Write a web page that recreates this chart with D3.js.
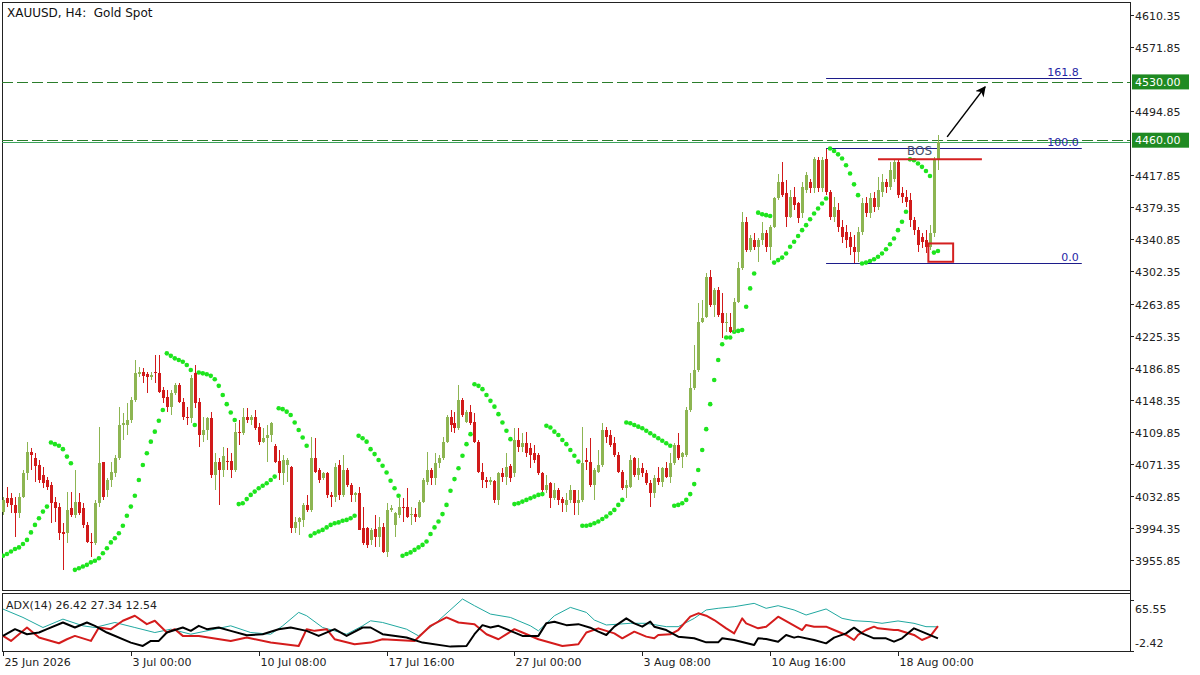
<!DOCTYPE html>
<html><head><meta charset="utf-8">
<script src="https://cdn.jsdelivr.net/npm/d3@7"></script>
<style>body{margin:0;background:#fff}svg{display:block}text{font-family:"DejaVu Sans",sans-serif}</style>
</head><body><svg id="c" width="1200" height="675"></svg>
<script>
// ---------------- DATA ----------------
const openP=[4014,4030,4030,4022,4012,4032,4060,4086,4078,4070,
4058,4052,4046,4026,4020,3989,3988,4018,4010,4026,
4018,3998,3978,3976,4024,4073,4040,4052,4060,4078,
4118,4118,4124,4148,4179,4182,4179,4176,4182,4180,
4160,4152,4140,4156,4166,4146,4128,4126,4180,4146,
4106,4112,4126,4058,4074,4064,4075,4075,4064,4110,
4108,4128,4124,4127,4116,4098,4102,4106,4093,4075,
4060,4070,4068,3994,4002,4004,4022,4016,4078,4064,
4054,4060,4034,4032,4070,4034,4064,4046,4034,4036,
3994,3994,3980,3993,3984,3996,3966,4016,3998,4010,
4020,4020,4011,4011,4008,4026,4050,4064,4054,4072,
4078,4098,4128,4120,4114,4148,4122,4134,4122,4098,
4062,4052,4050,4051,4028,4060,4056,4069,4060,4100,
4092,4096,4090,4084,4082,4060,4040,4048,4030,4040,
4029,4022,4028,4040,4024,4028,4076,4074,4046,4062,
4070,4112,4106,4096,4082,4062,4042,4044,4078,4058,
4066,4060,4048,4036,4054,4050,4066,4056,4072,4094,
4080,4082,4136,4162,4184,4242,4248,4296,4262,4280,
4252,4242,4236,4232,4266,4306,4362,4328,4340,4332,
4340,4348,4332,4356,4390,4410,4396,4368,4392,4384,
4372,4400,4410,4402,4436,4402,4438,4398,4368,4376,
4356,4350,4344,4332,4326,4350,4384,4372,4390,4380,
4398,4410,4404,4414,4434,4396,4392,4388,4364,4352,
4344,4340,4332,4348,4436];
const highP=[4032,4044,4036,4032,4036,4064,4098,4090,4084,4076,
4068,4056,4050,4032,4024,4000,4038,4038,4064,4036,
4024,4002,3988,4028,4116,4074,4054,4074,4082,4140,
4132,4144,4152,4196,4188,4186,4182,4182,4202,4202,
4164,4160,4160,4168,4169,4150,4140,4178,4190,4150,
4128,4128,4134,4084,4078,4092,4090,4084,4120,4124,
4138,4138,4130,4136,4120,4114,4118,4122,4095,4088,
4082,4078,4069,4008,4008,4024,4034,4104,4102,4066,
4062,4062,4038,4072,4076,4082,4066,4048,4038,4044,
4020,3996,3994,4010,4008,4000,4024,4022,4014,4030,
4030,4042,4020,4018,4028,4054,4086,4066,4084,4082,
4104,4130,4136,4134,4166,4150,4136,4142,4132,4100,
4072,4056,4056,4052,4062,4066,4084,4071,4114,4114,
4108,4110,4096,4094,4084,4062,4058,4050,4048,4042,
4031,4036,4046,4040,4040,4116,4090,4102,4066,4088,
4120,4116,4112,4104,4086,4064,4052,4082,4080,4078,
4072,4064,4052,4058,4068,4068,4074,4084,4096,4108,
4086,4140,4180,4214,4264,4268,4300,4304,4282,4284,
4276,4252,4252,4270,4314,4374,4368,4346,4348,4342,
4362,4352,4358,4392,4420,4434,4412,4400,4404,4386,
4410,4422,4414,4440,4440,4440,4450,4400,4392,4384,
4364,4358,4350,4346,4356,4390,4392,4396,4398,4416,
4420,4414,4434,4437,4437,4404,4400,4396,4368,4356,
4348,4352,4358,4440,4466];
const lowP=[4010,4020,4012,3984,4006,4030,4052,4064,4050,4048,
4042,4040,4000,4002,3980,3944,3976,4008,4006,4010,
3994,3976,3960,3974,4020,4028,4032,4044,4056,4076,
4100,4106,4120,4146,4176,4168,4156,4172,4168,4156,
4144,4134,4130,4154,4144,4124,4118,4120,4138,4092,
4098,4100,4054,4040,4022,4056,4064,4054,4062,4094,
4106,4120,4118,4112,4094,4096,4074,4098,4072,4052,
4046,4050,3988,3988,3986,3996,4014,4014,4060,4048,
4052,4030,4020,4026,4028,4032,4044,4026,4026,3992,
3974,3970,3974,3972,3972,3964,3960,4014,3984,4006,
4002,4006,3998,4002,4006,4024,4046,4046,4046,4066,
4076,4096,4110,4108,4112,4128,4120,4118,4096,4060,
4042,4042,4046,4024,4022,4050,4046,4050,4056,4086,
4086,4080,4066,4072,4058,4038,4036,4018,4028,4022,
4014,4014,4024,4010,4010,4026,4064,4044,4028,4060,
4068,4096,4092,4080,4060,4040,4030,4042,4056,4052,
4056,4046,4020,4030,4046,4044,4054,4048,4070,4076,
4066,4080,4134,4160,4182,4240,4246,4260,4248,4248,
4222,4230,4228,4230,4264,4304,4326,4326,4328,4314,
4334,4326,4316,4354,4388,4392,4356,4366,4376,4360,
4366,4396,4396,4396,4398,4398,4394,4364,4362,4350,
4336,4330,4322,4312,4314,4346,4368,4366,4374,4376,
4392,4396,4400,4410,4390,4384,4380,4356,4346,4326,
4330,4324,4328,4344,4424];
const closeP=[4028,4024,4022,4012,4032,4060,4086,4082,4069,4052,
4048,4044,4024,4018,3988,3987,4016,4010,4026,4012,
3998,3978,3976,4024,4072,4032,4052,4062,4078,4118,
4120,4124,4148,4180,4182,4177,4176,4178,4180,4158,
4150,4140,4156,4166,4146,4128,4126,4174,4144,4106,
4112,4126,4058,4074,4064,4081,4074,4064,4110,4108,
4128,4124,4127,4114,4098,4102,4106,4120,4074,4060,
4076,4076,3994,4002,4006,4022,4016,4078,4062,4052,
4060,4034,4032,4068,4034,4064,4046,4034,4036,3992,
3976,3974,3992,3984,3996,3966,4016,4018,4012,4020,
4018,4008,4011,4007,4026,4052,4064,4054,4072,4078,
4098,4128,4118,4114,4148,4130,4134,4120,4098,4062,
4052,4050,4052,4028,4060,4056,4068,4054,4100,4092,
4096,4084,4082,4076,4060,4040,4046,4030,4040,4028,
4024,4028,4040,4024,4028,4072,4074,4046,4064,4070,
4112,4104,4094,4082,4062,4042,4046,4076,4058,4066,
4060,4048,4036,4054,4050,4066,4056,4072,4094,4078,
4084,4136,4162,4184,4242,4246,4296,4262,4280,4250,
4240,4242,4230,4266,4306,4362,4328,4342,4332,4340,
4348,4332,4356,4390,4410,4394,4368,4392,4382,4366,
4404,4418,4402,4438,4402,4436,4398,4368,4380,4356,
4344,4340,4332,4326,4350,4384,4372,4390,4380,4400,
4410,4404,4424,4434,4394,4392,4386,4364,4352,4334,
4338,4332,4348,4436,4458];
// Parabolic SAR value for every bar
const sarP=[3961,3963,3966,3969,3971,3975,3980,3989,3998,4006,4014,4020,
4097,4095,4093,4089,4080,4072,
3944,3946,3948,3950,3953,3955,3958,3964,3970,3977,3982,3988,3997,4009,4020,4033,4052,4070,4084,4098,4110,4123,4136,
4204,4201,4198,4196,4194,4190,4184,
4118,
4181,4180,4179,4177,4173,4165,4154,4143,4133,4124,
4023,4024,4029,4034,4038,4042,4045,4048,4052,4056,
4138,4137,4134,4130,4121,4112,4103,4093,
3985,3988,3990,3992,3995,3998,4000,4001,4003,4004,4006,4009,
4105,4102,4098,4089,4083,4076,4069,4061,4051,4042,4033,
3961,3963,3965,3968,3971,3974,3978,3987,3995,4002,4011,4022,4039,4053,4066,4081,4095,4107,
4167,4165,4161,4154,4147,4140,4131,4121,4111,4101,
4023,4024,4026,4028,4030,4032,4034,4035,
4117,4115,4110,4106,4100,4095,4088,4081,4074,
3997,3997,3998,4000,4002,4005,4008,4012,4016,4022,4028,
4121,4120,4118,4116,4114,4111,4108,4105,4102,4099,4096,4093,
4021,4022,4024,4028,4035,4047,4064,4088,4113,4143,4172,4196,4215,4223,4223,4230,4231,4232,4260,4282,4300,
4373,4371,4370,4369,
4313,4316,4319,4324,4332,4338,4345,4352,4358,4365,4372,4378,4384,4390,
4450,4447,4443,4438,4430,4420,4407,4394,
4312,4313,4315,4317,4320,4324,4329,4335,4342,4352,4362,4374,
4437,4436,4432,4428,4423,4417,
4325,4327];
// ADX(14) readings (bar index, value)
const adxBars=[0,5,10,15,20,23,28,33,38,42,47,53,57,62,67,70,74,76,80,86,90,92,95,101,104,108,115,118,122,127,132,134,138,142,146,148,151,157,161,166,169,173,176,179,183,188,191,194,198,201,206,210,213,217,220,224,228,231,234];
const adxVals=[47.6,37.6,25.6,35.6,27.6,25.6,31.6,25.6,19.6,23.6,17.6,23.6,27.6,19.6,17.6,27.6,43.6,39.6,25.6,17.6,27.6,33.6,31.6,23.6,15.6,29.6,59.6,51.6,41.6,37.6,27.6,21.6,39.6,49.6,43.6,34.5,28.6,30.6,30.6,26.6,26.6,36.5,46.5,48.5,50.4,54.4,48.5,51.6,46.5,40.5,47.7,36.5,33.7,32.6,30.6,33.4,30.6,26.6,26.42];
const pdiBars=[0,2,6,9,14,16,18,22,24,27,30,33,36,38,41,43,45,49,57,61,67,74,76,78,81,83,88,92,95,103,107,111,114,118,121,124,128,130,134,140,144,146,149,153,155,158,161,163,164,167,169,172,174,176,178,181,183,185,186,189,191,194,197,200,201,203,206,208,211,213,214,216,218,219,223,224,228,230,232,234];
const pdiVals=[15.6,9.6,25.6,13.6,6.8,11.6,15.6,9.6,25.6,23.6,33.6,39.6,29.6,33.6,19.6,23.6,15.6,15.6,9.6,13.6,7.6,3.6,23.6,21.6,23.6,11.6,5.6,7.6,11.6,9.6,27.6,37.6,31.6,29.6,17.6,11.6,23.6,19.6,11.6,3.6,5.6,19.6,24.6,18.6,12.7,20.6,14.7,12.7,16.7,17.5,22.6,38.5,42.5,39.7,34.5,24.6,18.6,36.5,30.6,24.6,26.6,38.5,30.6,22.6,28.6,26.6,26.6,22.6,16.7,10.7,16.7,22.6,26.6,24.6,22.6,22.6,16.7,10.7,14.7,27.34];
const mdiBars=[0,3,6,9,11,15,18,21,23,26,32,35,37,39,41,45,47,49,51,54,57,61,65,69,72,76,79,83,86,90,92,95,101,105,112,116,118,120,122,124,127,130,134,136,138,141,144,147,149,151,153,156,158,160,162,163,166,169,173,176,179,180,183,188,189,191,194,196,198,199,203,206,208,211,213,215,218,221,223,225,228,231,234];
const mdiVals=[15.6,23.6,17.6,19.6,23.6,31.6,25.6,31.6,27.6,19.6,7.6,3.6,9.6,9.6,19.6,25.6,21.6,27.6,23.6,25.6,21.6,16.4,17.6,23.6,25.6,21.6,15.6,23.6,15.6,25.6,25.6,17.6,13.6,7.6,2.8,3.6,17.6,28.4,25.6,27.6,21.6,15.6,15.6,30.8,32.4,28.4,29.6,25.4,20.6,16.7,26.6,36.5,30.6,26.6,32.6,26.6,22.6,14.7,12.7,7.9,7.9,12.7,10.7,4.7,12.7,11.9,8.7,16.7,13.5,14.7,10.7,6.7,13.5,18.6,25.4,18.6,12.7,12.7,8.7,12.7,24.6,18.6,12.54];
const priceTicks=[4610.35,4571.85,4494.85,4417.85,4379.35,4340.85,4302.35,4263.85,4225.35,4186.85,4148.35,4109.85,4071.35,4032.85,3994.35,3955.85];
const adxTicks=[65.55,-2.42];
const timeBars=[0,32,64,96,128,160,192,224];
const timeLabels=["25 Jun 2026","3 Jul 00:00","10 Jul 08:00","17 Jul 16:00","27 Jul 00:00","3 Aug 08:00","10 Aug 16:00","18 Aug 00:00"];
const levelPrices=[4530,4460];
const bidPrice=4458;
const fibLevels=["161.8","100.0","0.0"];
const fibRatios=[1.618,1,0];
const fibHigh=4450.3, fibLow=4312.9, fibStartBar=206, fibEndBar=270;
const bosPrice=4437, bosStartBar=219, bosEndBar=245;
const boxBars=[231.6,237.8], boxPrices=[4336,4314];
const arrowFrom=[236.3,4464], arrowTo=[245.8,4524];
const titleText="XAUUSD, H4:  Gold Spot";
const adxText="ADX(14) 26.42 27.34 12.54";

// ---------------- LAYOUT ----------------
const svg=d3.select("#c");
const L=2,R=1130,T=2,B=590,AT=594,AB=651;
const x=d3.scaleLinear().domain([0,224]).range([3,898]);
const y=d3.scaleLinear().domain([3955.85,4610.35]).range([560,15]);
const ya=d3.scaleLinear().domain([-2.42,65.55]).range([AB,AT]);
const GREEN="#8db552",RED="#d11a1a";

svg.append("defs").append("clipPath").attr("id","mainclip").append("rect").attr("x",L).attr("y",T).attr("width",R-L).attr("height",B-T);
svg.select("defs").append("clipPath").attr("id","adxclip").append("rect").attr("x",L).attr("y",AT).attr("width",R-L).attr("height",AB-AT);
svg.select("defs").append("marker").attr("id","ah").attr("viewBox","0 0 10 10").attr("refX",9).attr("refY",5)
  .attr("markerWidth",7).attr("markerHeight",7).attr("orient","auto")
  .append("path").attr("d","M0,0 L10,5 L0,10 L3,5 z").attr("fill","#000");

// frames
const fr=svg.append("g").attr("stroke","#222").attr("fill","none").attr("shape-rendering","crispEdges");
fr.append("line").attr("x1",L+0.5).attr("x2",L+0.5).attr("y1",T).attr("y2",B+0.5);
fr.append("line").attr("x1",L).attr("x2",R).attr("y1",T+0.5).attr("y2",T+0.5);
fr.append("line").attr("x1",L).attr("x2",R).attr("y1",B+0.5).attr("y2",B+0.5);
fr.append("line").attr("x1",L).attr("x2",R).attr("y1",AT-0.5).attr("y2",AT-0.5);
fr.append("line").attr("x1",L+0.5).attr("x2",L+0.5).attr("y1",AT).attr("y2",AB+0.5);
fr.append("line").attr("x1",L).attr("x2",R).attr("y1",AB+0.5).attr("y2",AB+0.5);
fr.append("line").attr("x1",R+0.5).attr("x2",R+0.5).attr("y1",T).attr("y2",AB+0.5);

const main=svg.append("g").attr("clip-path","url(#mainclip)");

// horizontal levels
main.selectAll("line.lvl").data(levelPrices).join("line").attr("class","lvl")
  .attr("x1",L).attr("x2",R).attr("y1",d=>Math.round(y(d))+0.5).attr("y2",d=>Math.round(y(d))+0.5)
  .attr("stroke","#2b7d2b").attr("stroke-width",1).attr("stroke-dasharray","11,4");
main.append("line").attr("x1",L).attr("x2",R).attr("y1",Math.round(y(bidPrice))+0.5).attr("y2",Math.round(y(bidPrice))+0.5)
  .attr("stroke","#3aa35a").attr("stroke-width",1);

// fibonacci
const fg=main.append("g");
fibRatios.forEach((r,k)=>{
  const p=fibLow+(fibHigh-fibLow)*r, yy=Math.round(y(p))+0.5;
  fg.append("line").attr("x1",x(fibStartBar)).attr("x2",x(fibEndBar)).attr("y1",yy).attr("y2",yy)
    .attr("stroke","#1c1c8a").attr("stroke-width",1);
  fg.append("text").attr("x",x(fibEndBar)-3).attr("y",yy-3).attr("text-anchor","end")
    .attr("font-size",11).attr("fill","#2626a6").text(fibLevels[k]);
});

// SAR dots
main.append("g").selectAll("circle").data(sarP).join("circle")
  .attr("cx",(d,i)=>x(i)).attr("cy",d=>y(d)).attr("r",2.3).attr("fill","#1ee51e");

// candles
const idx=d3.range(Math.min(openP.length,highP.length,lowP.length,closeP.length));
const cg=main.append("g").attr("shape-rendering","crispEdges");
cg.selectAll("line").data(idx).join("line")
  .attr("x1",i=>Math.round(x(i))+0.5).attr("x2",i=>Math.round(x(i))+0.5)
  .attr("y1",i=>y(highP[i])).attr("y2",i=>y(lowP[i]))
  .attr("stroke",i=>closeP[i]>=openP[i]?GREEN:RED).attr("stroke-width",1);
cg.selectAll("rect").data(idx).join("rect")
  .attr("x",i=>Math.round(x(i))-1).attr("width",3)
  .attr("y",i=>y(Math.max(openP[i],closeP[i])))
  .attr("height",i=>Math.max(1,Math.abs(y(openP[i])-y(closeP[i]))))
  .attr("fill",i=>closeP[i]>=openP[i]?GREEN:RED);

// BOS
main.append("line").attr("x1",x(bosStartBar)).attr("x2",x(bosEndBar)).attr("y1",y(bosPrice)).attr("y2",y(bosPrice))
  .attr("stroke","#d42020").attr("stroke-width",2);
main.append("text").attr("x",x(bosStartBar)+29).attr("y",y(bosPrice)-4).attr("font-size",12)
  .attr("fill","#46506a").text("BOS");
main.append("rect").attr("x",x(boxBars[0])).attr("y",y(boxPrices[0])).attr("width",x(boxBars[1])-x(boxBars[0]))
  .attr("height",y(boxPrices[1])-y(boxPrices[0])).attr("fill","none").attr("stroke","#d42020").attr("stroke-width",2);
main.append("line").attr("x1",x(arrowFrom[0])).attr("y1",y(arrowFrom[1])).attr("x2",x(arrowTo[0])).attr("y2",y(arrowTo[1]))
  .attr("stroke","#000").attr("stroke-width",1.5).attr("marker-end","url(#ah)");

// title
svg.append("text").attr("x",7).attr("y",17).attr("font-size",12).attr("fill","#111").attr("xml:space","preserve").text(titleText);

// right axis
const ax=svg.append("g");
priceTicks.forEach(p=>{
  const yy=Math.round(y(p))+0.5;
  ax.append("line").attr("x1",R).attr("x2",R+4).attr("y1",yy).attr("y2",yy).attr("stroke","#222");
  ax.append("text").attr("x",R+5).attr("y",yy+4).attr("font-size",11).attr("fill","#222").text(p.toFixed(2));
});
levelPrices.forEach(p=>{
  const yy=y(p);
  ax.append("rect").attr("x",R+2).attr("y",yy-7.5).attr("width",57).attr("height",15).attr("fill","#1f8a22");
  ax.append("text").attr("x",R+5).attr("y",yy+4).attr("font-size",11).attr("fill","#fff").text(p.toFixed(2));
});
// ADX axis
adxTicks.forEach((v,k)=>{
  const yy=k===0?609:643;
  ax.append("text").attr("x",R+5).attr("y",yy+4).attr("font-size",11).attr("fill","#222").text(v.toFixed(2));
});
ax.append("line").attr("x1",R).attr("x2",R+4).attr("y1",AB+0.5).attr("y2",AB+0.5).attr("stroke","#222");
ax.append("line").attr("x1",R).attr("x2",R+4).attr("y1",AT+6.5).attr("y2",AT+6.5).attr("stroke","#222");

// ADX panel
const ag=svg.append("g").attr("clip-path","url(#adxclip)").attr("fill","none");
const ln=d3.line().x(d=>x(d[0])).y(d=>ya(d[1]));
ag.append("path").attr("d",ln(adxBars.map((b,k)=>[b,adxVals[k]]))).attr("stroke","#20a8a0").attr("stroke-width",1);
ag.append("path").attr("d",ln(pdiBars.map((b,k)=>[b,pdiVals[k]]))).attr("stroke","#d41c1c").attr("stroke-width",2).attr("stroke-linejoin","round");
ag.append("path").attr("d",ln(mdiBars.map((b,k)=>[b,mdiVals[k]]))).attr("stroke","#000").attr("stroke-width",2).attr("stroke-linejoin","round");
svg.append("text").attr("x",6).attr("y",609).attr("font-size",11).attr("fill","#222").text(adxText);

// time axis
const tg=svg.append("g");
timeBars.forEach((b,k)=>{
  const xx=Math.round(x(b))+0.5;
  tg.append("line").attr("x1",xx).attr("x2",xx).attr("y1",AB).attr("y2",AB+5).attr("stroke","#222");
  tg.append("text").attr("x",xx+1).attr("y",666).attr("font-size",11).attr("fill","#222").text(timeLabels[k]);
});
</script></body></html>
